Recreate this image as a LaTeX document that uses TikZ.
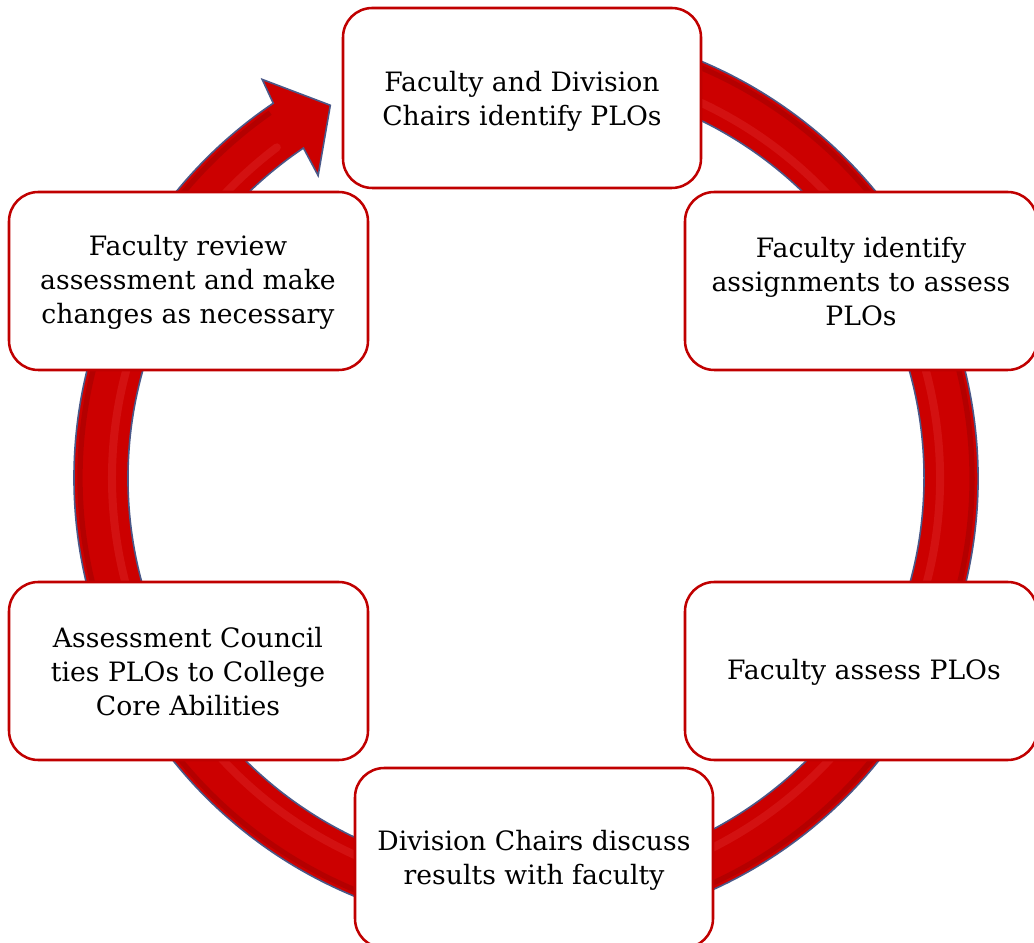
\documentclass[tikz,border=0pt]{standalone}
\usepackage{fontspec}
\setmainfont{DejaVu Serif}
\usetikzlibrary{calc}
\definecolor{boxred}{HTML}{C00000}
\definecolor{ringred}{HTML}{CC0000}
\definecolor{ringedge}{HTML}{4A5888}
\definecolor{ringdark}{HTML}{9E0000}
\definecolor{ringlight}{HTML}{E53A3A}
\tikzset{
  stepbox/.style={draw=boxred, line width=1.9pt, fill=white, rounded corners=22pt},
  steptext/.style={font=\fontsize{20}{25.5}\selectfont, align=center, text=black}
}
\begin{document}
\begin{tikzpicture}[x=0.75pt,y=0.75pt]
\path[use as bounding box] (0,0) rectangle (1034,942);
\begin{scope}
\clip (0,0) rectangle (1034,942);
\coordinate (c) at (526,464);
% ring arrow
\fill[ringred, draw=ringedge, line width=1.2pt]
  ($(c)+(100:452)$) arc[start angle=100, end angle=-236, radius=452]
  -- ($(c)+(123.5:478)$) -- ($(c)+(117.7:421)$) -- ($(c)+(124.5:367)$)
  -- ($(c)+(124:398)$) arc[start angle=-236, end angle=100, radius=398] -- cycle;
\draw[ringdark, line width=4pt, opacity=0.5] ($(c)+(100:446)$) arc[start angle=100, end angle=-235, radius=446];
\draw[ringlight, line width=6pt, opacity=0.3, line cap=round] ($(c)+(100:414)$) arc[start angle=100, end angle=-233, radius=414];
% boxes (pixel coords, y up)
\draw[stepbox] (343,754) rectangle (701,934);
\node[steptext] (b1) at (522,841) {Faculty and Division\\Chairs identify PLOs};
\draw[stepbox] (685,572) rectangle (1037,750);
\node[steptext] (b2) at (861,660) {Faculty identify\\assignments to assess\\PLOs};
\draw[stepbox] (685,182) rectangle (1037,360);
\node[steptext] (b3) at (864,270) {Faculty assess PLOs};
\draw[stepbox] (355,-6) rectangle (713,174);
\node[steptext] (b4) at (534,82) {Division Chairs discuss\\results with faculty};
\draw[stepbox] (9,182) rectangle (368,360);
\node[steptext] (b5) at (188,270) {Assessment Council\\ties PLOs to College\\Core Abilities};
\draw[stepbox] (9,572) rectangle (368,750);
\node[steptext] (b6) at (188,660) {Faculty review\\assessment and make\\changes as necessary};
\end{scope}
\end{tikzpicture}
\end{document}
